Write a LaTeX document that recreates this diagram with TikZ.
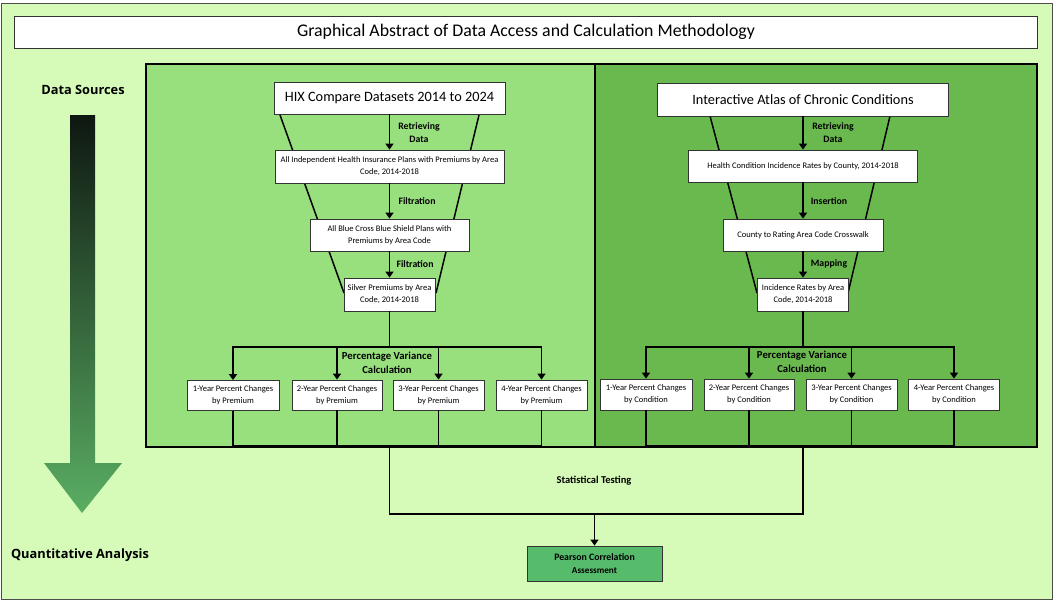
\documentclass[tikz,border=0pt]{standalone}
\usepackage{fontspec}
\setmainfont{Carlito}
\newfontfamily\sidefont{Open Sans}
\usetikzlibrary{arrows.meta}
\definecolor{bgfill}{HTML}{D6FBB9}
\definecolor{leftfill}{HTML}{98E07E}
\definecolor{rightfill}{HTML}{6AB94F}
\definecolor{pearfill}{HTML}{56BC6B}
\definecolor{arrtop}{HTML}{0E1711}
\definecolor{arrbot}{HTML}{5AAE63}
\tikzset{
  box/.style={draw=black!80, fill=white, line width=0.8pt, align=center, inner sep=1pt,
              font=\fontsize{8.5}{12}\selectfont},
  srcbox/.style={box, font=\fontsize{14.3}{16}\selectfont},
  lbl/.style={align=center, font=\bfseries\fontsize{9.8}{13}\selectfont},
  sidelbl/.style={font=\sidefont\bfseries\fontsize{12.8}{14}\selectfont},
  flow/.style={line width=1.8pt, -{Triangle[width=8pt,length=6pt]}},
  link/.style={line width=1.8pt},
  funnel/.style={line width=1.5pt},
}
\begin{document}
\begin{tikzpicture}[x=1pt,y=-1pt]
	\useasboundingbox (0,0) rectangle (1054,602);
	\fill[white] (0,0) rectangle (1054,602);
	\draw[fill=bgfill, draw=black!70, line width=1pt] (1,4) rectangle (1052,599); % frame
	\node[box, minimum width=1023, minimum height=32, font=\fontsize{17.8}{19}\selectfont] (title) at (526,32) {Graphical Abstract of Data Access and Calculation Methodology};
	% the two panels
	\draw[fill=leftfill, line width=2.5pt] (146,64) rectangle (595,447);
	\draw[fill=rightfill, line width=2.5pt] (595,64) rectangle (1037,447);
	\draw[funnel] (280,115) -- (344,293); % left funnel
	\draw[funnel] (479,115) -- (436,293);
	\draw[funnel] (710,116) -- (757,293); % right funnel
	\draw[funnel] (890,116) -- (848,293);
	% premiums
	\node[srcbox, minimum width=231, minimum height=32] (hix) at (389.5,98) {HIX Compare Datasets 2014 to 2024};
	\node[box, minimum width=229, minimum height=33] (plans) at (389.5,166.5) {All Independent Health Insurance Plans with Premiums by Area\\Code, 2014-2018};
	\node[box, minimum width=159, minimum height=32] (bcbs) at (389.5,235) {All Blue Cross Blue Shield Plans with\\Premiums by Area Code};
	\node[box, minimum width=91, minimum height=33] (silver) at (389.5,294.5) {Silver Premiums by Area\\Code, 2014-2018};
	\node[lbl] (lretr) at (419,132.5) {Retrieving\\Data};
	\node[lbl] (lfilt1) at (417,201) {Filtration};
	\node[lbl] (lfilt2) at (415,264) {Filtration};
	\draw[flow] (hix) -- (plans);
	\draw[flow] (plans) -- (bcbs);
	\draw[flow] (bcbs) -- (silver);
	\node[box, minimum width=92, minimum height=30] (pa1) at (233,395.5) {1-Year Percent Changes\\by Premium};
	\node[box, minimum width=90, minimum height=30] (pa2) at (337,395) {2-Year Percent Changes\\by Premium};
	\node[box, minimum width=91, minimum height=30] (pa3) at (438.5,395) {3-Year Percent Changes\\by Premium};
	\node[box, minimum width=91, minimum height=30] (pa4) at (541.5,395) {4-Year Percent Changes\\by Premium};
	\node[lbl, font=\bfseries\fontsize{10.7}{14}\selectfont] (lvar) at (387,363) {Percentage Variance\\Calculation};
	\coordinate (lsplit) at (389.5,347);
	\coordinate (ljoin) at (389.5,446);
	\draw[link] (silver) -- (lsplit);
	\draw[flow] (lsplit) -| (pa1);
	\draw[flow] (lsplit) -| (pa2);
	\draw[flow] (lsplit) -| (pa3);
	\draw[flow] (lsplit) -| (pa4);
	\draw[link] (pa1) |- (ljoin);
	\draw[link] (pa2) |- (ljoin);
	\draw[link] (pa3) |- (ljoin);
	\draw[link] (pa4) |- (ljoin);
	% conditions
	\node[srcbox, minimum width=291, minimum height=33] (atlas) at (803,99.5) {Interactive Atlas of Chronic Conditions};
	\node[box, minimum width=229, minimum height=32] (county) at (803,166) {Health Condition Incidence Rates by County, 2014-2018};
	\node[box, minimum width=160, minimum height=32] (xwalk) at (803,235) {County to Rating Area Code Crosswalk};
	\node[box, minimum width=91, minimum height=33] (incid) at (803,294.5) {Incidence Rates by Area\\Code, 2014-2018};
	\node[lbl] (rretr) at (833,132.5) {Retrieving\\Data};
	\node[lbl] (rins) at (829,201) {Insertion};
	\node[lbl] (rmap) at (829,264) {Mapping};
	\draw[flow] (atlas) -- (county);
	\draw[flow] (county) -- (xwalk);
	\draw[flow] (xwalk) -- (incid);
	\node[box, minimum width=92, minimum height=31] (ca1) at (646,394.5) {1-Year Percent Changes\\by Condition};
	\node[box, minimum width=90, minimum height=31] (ca2) at (749,394.5) {2-Year Percent Changes\\by Condition};
	\node[box, minimum width=91, minimum height=31] (ca3) at (851.5,394.5) {3-Year Percent Changes\\by Condition};
	\node[box, minimum width=91, minimum height=31] (ca4) at (954,394.5) {4-Year Percent Changes\\by Condition};
	\node[lbl, font=\bfseries\fontsize{10.7}{14}\selectfont] (rvar) at (802,362) {Percentage Variance\\Calculation};
	\coordinate (rsplit) at (803,347);
	\coordinate (rjoin) at (803,446);
	\draw[link] (incid) -- (rsplit);
	\draw[flow] (rsplit) -| (ca1);
	\draw[flow] (rsplit) -| (ca2);
	\draw[flow] (rsplit) -| (ca3);
	\draw[flow] (rsplit) -| (ca4);
	\draw[link] (ca1) |- (rjoin);
	\draw[link] (ca2) |- (rjoin);
	\draw[link] (ca3) |- (rjoin);
	\draw[link] (ca4) |- (rjoin);
	% statistical testing and result
	\coordinate (lcorner) at (389.5,514);
	\coordinate (rcorner) at (803,514);
	\coordinate (sbot) at (594.5,514);
	\draw[line width=1.5pt] (ljoin) -- (lcorner) -- (rcorner) -- (rjoin);
	\node[lbl, font=\bfseries\fontsize{10.5}{13}\selectfont] (stat) at (594,481) {Statistical Testing};
	\node[box, fill=pearfill, minimum width=135, minimum height=35, font=\bfseries\fontsize{9.8}{13}\selectfont] (pearson) at (594.5,563.5) {Pearson Correlation\\{\fontsize{9.2}{13}\selectfont Assessment}};
	\draw[flow] (sbot) -- (pearson);
	% side arrow
	\shade[top color=arrtop, bottom color=arrbot] (70,115) -- (95,115) -- (95,463) -- (122,463) -- (82,513) -- (44,463) -- (70,463) -- cycle;
	\node[sidelbl] (dsrc) at (83,90) {Data Sources};
	\node[sidelbl] (qana) at (80,555) {Quantitative Analysis};
\end{tikzpicture}
\end{document}
